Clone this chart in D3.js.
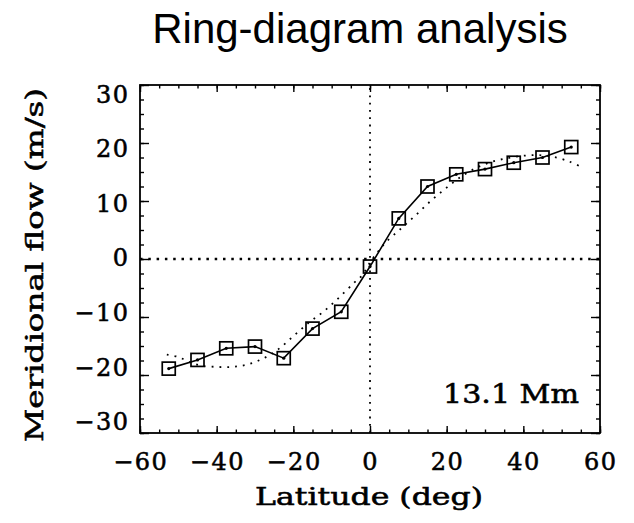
<!DOCTYPE html>
<html><head><meta charset="utf-8">
<script src="https://cdn.jsdelivr.net/npm/d3@7"></script>
<style>body{margin:0;background:#fff} svg{display:block;background:#fff}</style>
</head><body><svg id="c" width="634" height="523"></svg>
<script>
const titleText = "Ring-diagram analysis";
const xTitle = "Latitude (deg)";
const yTitle = "Meridional flow (m/s)";
const annotation = "13.1 Mm";
const latitudes = [-52.5,-45,-37.5,-30,-22.5,-15,-7.5,0,7.5,15,22.5,30,37.5,45,52.5];
const flow = [-18.9,-17.4,-15.4,-15.1,-17.1,-12.0,-9.1,-1.3,7.0,12.5,14.6,15.5,16.6,17.5,19.3];
const fitLat = [-53,-50,-47,-44,-40,-36,-32,-28,-24,-20,-16,-12,-8,-4,-2,0,2,4,8,12,16,20,24,28,32,36,40,44,48,52,55];
const fitFlow = [-16.5,-16.9,-17.8,-18.4,-18.6,-18.6,-18.2,-17.2,-15.6,-13.3,-11.0,-9.0,-6.6,-4.0,-2.8,-0.6,1.2,2.8,5.2,7.6,10.1,12.3,14.3,15.8,16.8,17.4,17.8,17.9,17.6,16.8,15.9];
const xTicks = [-60,-40,-20,0,20,40,60];
const yTicks = [-30,-20,-10,0,10,20,30];

const svg = d3.select("#c");
const L = 140, R = 600, T = 85, B = 433;
const x = d3.scaleLinear().domain([-60,60]).range([L,R]);
const y = d3.scaleLinear().domain([-30,30]).range([B,T]);
const yLab = d3.scaleLinear().domain([-30,30]).range([421.5,94]);
const serif = "'DejaVu Serif', serif";
const fmt = d3.format("d");

function heavy(sel){ return sel.attr("stroke","#000").attr("stroke-width",0.55).attr("paint-order","fill"); }

// title
svg.append("text").attr("x",360).attr("y",43).attr("text-anchor","middle")
  .attr("font-family","'Liberation Sans', Arial, sans-serif").attr("font-size",42).attr("fill","#000")
  .text(titleText);

// frame
svg.append("rect").attr("x",L).attr("y",T).attr("width",R-L).attr("height",B-T)
  .attr("fill","none").attr("stroke","#000").attr("stroke-width",1.8);

function tickAxis(axisFn, scale, values, size, transform){
  const g = svg.append("g").attr("transform",transform)
    .call(axisFn(scale).tickValues(values).tickSize(size).tickFormat(""));
  g.select(".domain").remove();
  g.selectAll("line").attr("stroke","#000").attr("stroke-width",1.4);
}
const xMinor = d3.range(-60,61,5), yMinor = d3.range(-30,30.1,2.5);
tickAxis(d3.axisBottom, x, xMinor, -3.5, `translate(0,${B})`);
tickAxis(d3.axisBottom, x, xTicks, -7, `translate(0,${B})`);
tickAxis(d3.axisTop, x, xMinor, -3.5, `translate(0,${T})`);
tickAxis(d3.axisTop, x, xTicks, -7, `translate(0,${T})`);
tickAxis(d3.axisLeft, y, yMinor, -4, `translate(${L},0)`);
tickAxis(d3.axisLeft, y, yTicks, -9, `translate(${L},0)`);
tickAxis(d3.axisRight, y, yMinor, -4, `translate(${R},0)`);
tickAxis(d3.axisRight, y, yTicks, -9, `translate(${R},0)`);

// tick labels
heavy(svg.append("g").selectAll("text").data(xTicks).join("text")
  .attr("x",d=>x(d)+0.75).attr("y",470).attr("text-anchor","middle")
  .attr("font-family",serif).attr("font-size",24).attr("letter-spacing","1.5px").attr("fill","#000")
  .text(d=>fmt(d)));
heavy(svg.append("g").selectAll("text").data(yTicks).join("text")
  .attr("x",129.5).attr("y",d=>yLab(d)).attr("dy","0.36em").attr("text-anchor","end")
  .attr("font-family",serif).attr("font-size",24).attr("letter-spacing","1.5px").attr("fill","#000")
  .text(d=>fmt(d)));

// axis titles
heavy(svg.append("text").attr("x",369).attr("y",505).attr("text-anchor","middle")
  .attr("font-family",serif).attr("font-size",24).attr("fill","#000")
  .attr("textLength",228).attr("lengthAdjust","spacingAndGlyphs").text(xTitle));
heavy(svg.append("text").attr("transform","translate(43,265) rotate(-90)").attr("text-anchor","middle")
  .attr("font-family",serif).attr("font-size",24).attr("fill","#000")
  .attr("textLength",354).attr("lengthAdjust","spacingAndGlyphs").text(yTitle));

// annotation
heavy(svg.append("text").attr("x",443).attr("y",403)
  .attr("font-family",serif).attr("font-size",26).attr("fill","#000")
  .attr("textLength",136).attr("lengthAdjust","spacingAndGlyphs").text(annotation));

// zero lines
svg.append("line").attr("x1",x(-60)).attr("x2",x(60)).attr("y1",y(0)).attr("y2",y(0))
  .attr("stroke","#000").attr("stroke-width",2.5).attr("stroke-dasharray","2.5,5.8");
svg.append("line").attr("x1",x(0)).attr("x2",x(0)).attr("y1",y(-30)).attr("y2",y(30))
  .attr("stroke","#000").attr("stroke-width",1.8).attr("stroke-dasharray","1.8,5.5");

// fit curve (dotted)
const fitData = fitLat.map((d,i)=>[d,fitFlow[i]]);
svg.append("path").datum(fitData)
  .attr("d", d3.line().x(d=>x(d[0])).y(d=>y(d[1])).curve(d3.curveCatmullRom))
  .attr("fill","none").attr("stroke","#000").attr("stroke-width",1.8).attr("stroke-dasharray","1.8,6");

// data line
const pts = latitudes.map((d,i)=>[d,flow[i]]);
svg.append("path").datum(pts)
  .attr("d", d3.line().x(d=>x(d[0])).y(d=>y(d[1])))
  .attr("fill","none").attr("stroke","#000").attr("stroke-width",1.6);

// markers
const s = 13;
svg.append("g").selectAll("rect").data(pts).join("rect")
  .attr("x",d=>x(d[0])-s/2).attr("y",d=>y(d[1])-s/2).attr("width",s).attr("height",s)
  .attr("fill","none").attr("stroke","#000").attr("stroke-width",1.7);
svg.append("g").selectAll("circle").data(pts).join("circle")
  .attr("cx",d=>x(d[0])).attr("cy",d=>y(d[1])).attr("r",1.6).attr("fill","#000");
</script></body></html>
